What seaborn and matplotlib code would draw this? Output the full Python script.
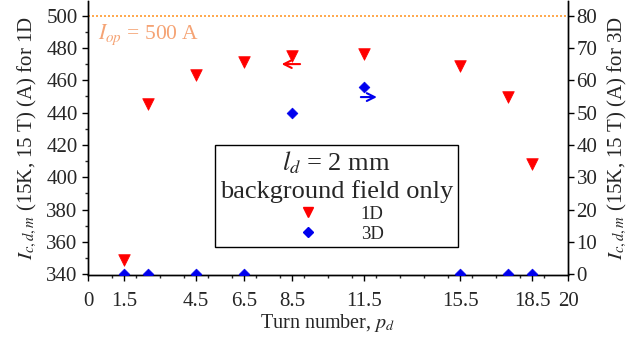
import numpy as np
import pandas as pd
import matplotlib
matplotlib.use("Agg")
import matplotlib.pyplot as plt
import seaborn as sns
from matplotlib.lines import Line2D

# ---- data ----
turns_1d = [1.5, 2.5, 4.5, 6.5, 8.5, 11.5, 15.5, 17.5, 18.5]
ic_1d = [349, 445.5, 463, 471, 475, 476, 469, 449.5, 408.5]
turns_3d = [1.5, 2.5, 4.5, 6.5, 8.5, 11.5, 15.5, 17.5, 18.5]
ic_3d = [0, 0, 0, 0, 50, 58, 0, 0, 0]
xtick_vals = [0, 1.5, 4.5, 6.5, 8.5, 11.5, 15.5, 18.5, 20]
xtick_labels = ["0", "1.5", "4.5", "6.5", "8.5", "11.5", "15.5", "18.5", "20"]
i_op = 500

sns.set_style("ticks")
plt.rcParams["font.family"] = ["Liberation Serif", "DejaVu Serif"]
plt.rcParams["mathtext.fontset"] = "stix"

fig = plt.figure(figsize=(6.42, 3.43), dpi=100)
ax = fig.add_axes([0.137, 0.198, 0.748, 0.799])
ax2 = ax.twinx()

df1 = pd.DataFrame({"turn": turns_1d, "ic": ic_1d})
df3 = pd.DataFrame({"turn": turns_3d, "ic": ic_3d})

sns.scatterplot(data=df1, x="turn", y="ic", ax=ax, marker="v", s=70,
                color="#ff0000", edgecolor="#ff0000", linewidth=0.5, zorder=3)
sns.scatterplot(data=df3, x="turn", y="ic", ax=ax2, marker="D", s=30,
                color="#0000ee", edgecolor="#0000ee", linewidth=0.5, zorder=3)

ax.axhline(i_op, color="#ff9a2e", ls=(0, (1.2, 1.2)), lw=1.2, zorder=1)
ax.text(0.4, 488, r"$I_{op}$ = 500 A", color="#f5a374", fontsize=15.5,
        va="center", ha="left")

ylo, yhi = 339.5, 509
ax.set_xlim(0, 20)
ax.set_ylim(ylo, yhi)
ax2.set_ylim((ylo - 340) / 2, (yhi - 340) / 2)

ax.set_xticks(xtick_vals)
ax.set_xticklabels(xtick_labels)
ax.set_xticks(np.arange(0, 21, 1), minor=True)
ax.set_yticks(np.arange(340, 501, 20))
ax.set_yticks(np.arange(340, 501, 10), minor=True)
ax2.set_yticks(np.arange(0, 81, 10))

for a in (ax, ax2):
    a.tick_params(axis="both", which="major", labelsize=15, length=4,
                  width=1, color="black", direction="out")
    a.tick_params(axis="both", which="minor", length=2.5, width=1)
    for s in a.spines.values():
        s.set_linewidth(1)
        s.set_color("black")
    a.spines["top"].set_visible(False)
ax.tick_params(axis="x", which="major", pad=8)
ax2.tick_params(axis="y", which="major", pad=2)

ax.set_xlabel(r"Turn number, $p_d$", fontsize=14.5, labelpad=1)
ax.set_ylabel(r"$I_{c,d,m}$ (15K, 15 T) (A) for 1D", fontsize=15, labelpad=5)
ax2.set_ylabel(r"$I_{c,d,m}$ (15K, 15 T) (A) for 3D", fontsize=15, labelpad=6)

# direction arrows
ax.annotate("", xy=(7.95, 470), xytext=(8.95, 470),
            arrowprops=dict(arrowstyle="->", color="#ff0000", lw=1.5,
                            mutation_scale=14))
ax2.annotate("", xy=(12.15, 54.8), xytext=(11.25, 54.8),
             arrowprops=dict(arrowstyle="->", color="#0000ee", lw=1.5,
                             mutation_scale=14))

handles = [
    Line2D([], [], marker="v", color="#ff0000", ls="none", markersize=7.5),
    Line2D([], [], marker="D", color="#0000ee", ls="none", markersize=5.5),
]
leg = fig.legend(handles, ["1D", "3D"], loc="center",
                 bbox_to_anchor=(0.524, 0.428),
                 title="$l_d$ = 2 mm\nbackground field only",
                 title_fontsize=19, fontsize=13.5, frameon=True,
                 fancybox=False, edgecolor="black", framealpha=1,
                 handletextpad=1.8, labelspacing=0.15, borderpad=0.25)
leg.get_frame().set_linewidth(1)
leg.get_title().set_multialignment("center")

fig.savefig("out.png", dpi=100)
